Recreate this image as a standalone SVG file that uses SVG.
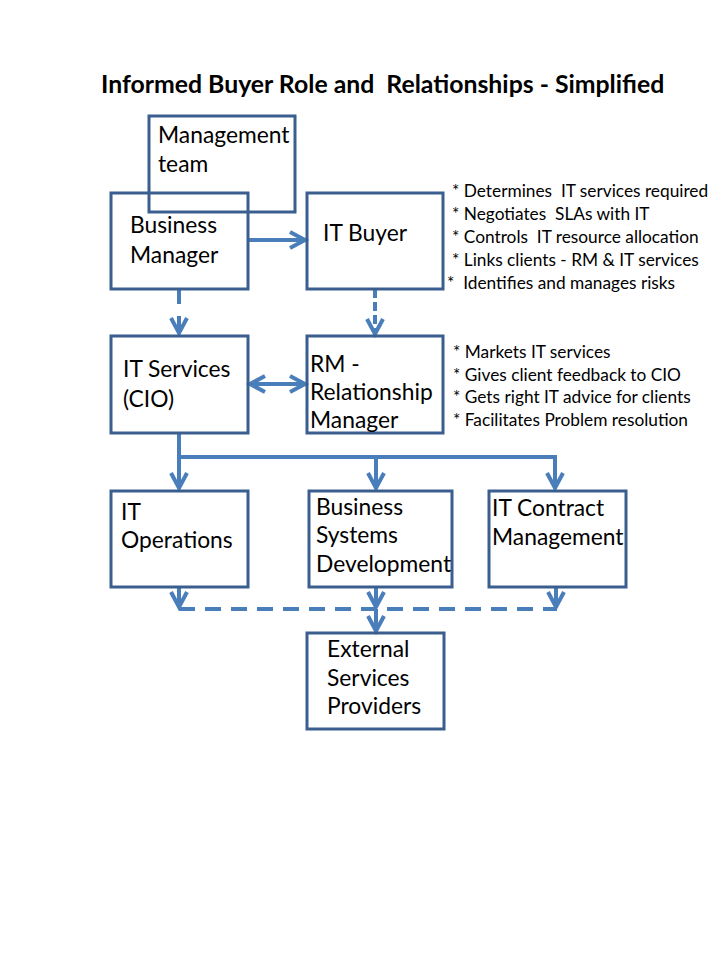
<svg xmlns="http://www.w3.org/2000/svg" width="720" height="960" viewBox="0 0 720 960">
<style>
  .box { fill: none; stroke: #3A5F8F; stroke-width: 3; }
  .t { font-family: Lato, "Open Sans", sans-serif; font-size: 22.8px; fill: #000; }
  .b { font-family: Lato, "Open Sans", sans-serif; font-size: 17.3px; fill: #000; white-space: pre; }
  .title { font-family: Lato, "Open Sans", sans-serif; font-size: 24.8px; font-weight: bold; fill: #000; white-space: pre; }
  .c { fill: none; stroke: #4A7EBB; stroke-width: 4; }
  .c1 { stroke-dasharray: 15 12; }
  .c2 { stroke-dasharray: 9 4; }
  .c3 { stroke-dasharray: 16 10; }
</style>
<defs>
  <marker id="ah" markerUnits="userSpaceOnUse" markerWidth="30" markerHeight="30" refX="20" refY="15" orient="auto-start-reverse" overflow="visible">
    <path d="M5,7 L20,15 L5,23" fill="none" stroke="#4A7EBB" stroke-width="4" stroke-dasharray="none"/>
  </marker>
</defs>
<rect width="720" height="960" fill="#fff"/>
<text class="title" x="101" y="93">Informed Buyer Role and  Relationships - Simplified</text>

<g id="connectors">
  <path class="c" d="M248,240 H305" marker-end="url(#ah)"/>
  <path class="c c1" d="M179,289 V333" marker-end="url(#ah)"/>
  <path class="c c2" d="M375,289 V334" marker-end="url(#ah)"/>
  <path class="c" d="M250,384 H305" marker-start="url(#ah)" marker-end="url(#ah)"/>
  <path class="c" d="M179,433 V488" marker-end="url(#ah)"/>
  <path class="c" d="M179,457 H557"/>
  <path class="c" d="M376,457 V488" marker-end="url(#ah)"/>
  <path class="c" d="M555,457 V488" marker-end="url(#ah)"/>
  <path class="c" d="M179,587 V607" marker-end="url(#ah)"/>
  <path class="c" d="M376,587 V607" marker-end="url(#ah)"/>
  <path class="c" d="M556,587 V607" marker-end="url(#ah)"/>
  <path class="c c3" d="M179,609 H557"/>
  <path class="c" d="M376,609 V631" marker-end="url(#ah)"/>
</g>

<g id="management-team">
  <rect class="box" x="149" y="116" width="146" height="96"/>
  <text class="t" x="158" y="143">Management</text>
  <text class="t" x="158" y="172">team</text>
</g>
<g id="business-manager">
  <rect class="box" x="111" y="193" width="137" height="96"/>
  <text class="t" x="130" y="233">Business</text>
  <text class="t" x="130" y="263">Manager</text>
</g>
<g id="it-buyer">
  <rect class="box" x="307" y="193" width="136" height="96"/>
  <text class="t" x="323" y="241">IT Buyer</text>
</g>
<g id="it-buyer-notes">
  <text class="b" x="452" y="197">* Determines  IT services required</text>
  <text class="b" x="452" y="220">* Negotiates  SLAs with IT</text>
  <text class="b" x="452" y="243">* Controls  IT resource allocation</text>
  <text class="b" x="452" y="266">* Links clients - RM &amp; IT services</text>
  <text class="b" x="447" y="289">*  Identifies and manages risks</text>
</g>
<g id="it-services">
  <rect class="box" x="111" y="336" width="137" height="97"/>
  <text class="t" x="123" y="377">IT Services</text>
  <text class="t" x="123" y="407">(CIO)</text>
</g>
<g id="relationship-manager">
  <rect class="box" x="307" y="336" width="136" height="97"/>
  <text class="t" x="310" y="372">RM -</text>
  <text class="t" x="310" y="400">Relationship</text>
  <text class="t" x="310" y="428">Manager</text>
</g>
<g id="rm-notes">
  <text class="b" x="453" y="358">* Markets IT services</text>
  <text class="b" x="453" y="381">* Gives client feedback to CIO</text>
  <text class="b" x="453" y="403">* Gets right IT advice for clients</text>
  <text class="b" x="453" y="426">* Facilitates Problem resolution</text>
</g>
<g id="it-operations">
  <rect class="box" x="111" y="491" width="137" height="96"/>
  <text class="t" x="121" y="520">IT</text>
  <text class="t" x="121" y="548">Operations</text>
</g>
<g id="business-systems-development">
  <rect class="box" x="309" y="491" width="143" height="96"/>
  <text class="t" x="316" y="515">Business</text>
  <text class="t" x="316" y="543">Systems</text>
  <text class="t" x="316" y="572">Development</text>
</g>
<g id="it-contract-management">
  <rect class="box" x="489" y="491" width="137" height="96"/>
  <text class="t" x="492" y="516">IT Contract</text>
  <text class="t" x="492" y="545">Management</text>
</g>
<g id="external-services-providers">
  <rect class="box" x="307" y="633" width="137" height="96"/>
  <text class="t" x="327" y="657">External</text>
  <text class="t" x="327" y="686">Services</text>
  <text class="t" x="327" y="714">Providers</text>
</g>
</svg>
